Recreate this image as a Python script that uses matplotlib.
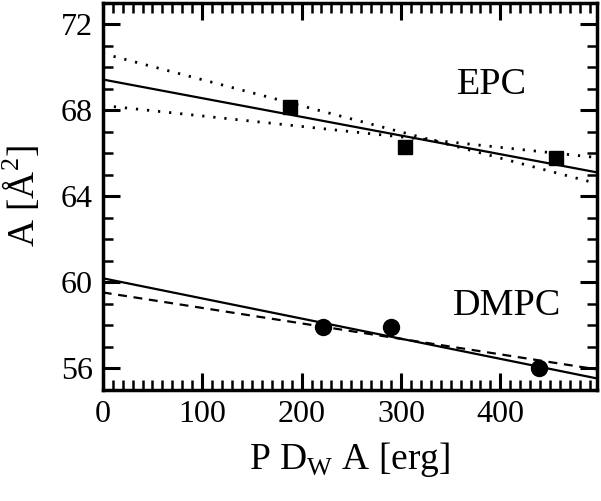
import matplotlib
matplotlib.use("Agg")
import matplotlib.pyplot as plt
from matplotlib.ticker import MultipleLocator

plt.rcParams["font.family"] = ["Liberation Serif", "DejaVu Serif"]
plt.rcParams["mathtext.fontset"] = "custom"
plt.rcParams["mathtext.rm"] = "Liberation Serif"

# data
epc_x = [188, 304, 456]
epc_y = [68.15, 66.3, 65.78]
dmpc_x = [222, 290, 439]
dmpc_y = [57.9, 57.9, 56.0]

# fit lines, values at the two ends of the x range
line_x = [0, 497]
epc_fit = [69.44, 65.12]
epc_band_a = [70.65, 64.6]
epc_band_b = [68.23, 65.81]
dmpc_fit = [60.19, 55.53]
dmpc_alt = [59.53, 55.95]

fig = plt.figure(figsize=(6.01, 5.01), dpi=100)
ax = fig.add_axes([0.171, 0.222, 0.822, 0.772])

ax.plot(line_x, epc_fit, "-", color="black", lw=1.6)
ax.plot(line_x, epc_band_a, color="black", lw=2, linestyle=(0, (0.8, 3.2)))
ax.plot(line_x, epc_band_b, color="black", lw=2, linestyle=(0, (0.8, 3.2)))
ax.plot(line_x, dmpc_fit, "-", color="black", lw=1.6)
ax.plot(line_x, dmpc_alt, color="black", lw=1.6, linestyle=(0, (4, 3)))

ax.plot(epc_x, epc_y, "s", color="black", ms=10, zorder=3)
ax.plot(dmpc_x, dmpc_y, "o", color="black", ms=11.5, zorder=3)

ax.text(392, 69.2, "EPC", fontsize=27.5, ha="center", va="center")
ax.text(407, 58.9, "DMPC", fontsize=27.5, ha="center", va="center")

ax.set_xlim(0, 497)
ax.set_ylim(55, 73)
ax.xaxis.set_major_locator(MultipleLocator(100))
ax.xaxis.set_minor_locator(MultipleLocator(10))
ax.yaxis.set_major_locator(MultipleLocator(4))
ax.yaxis.set_minor_locator(MultipleLocator(1))

for s in ax.spines.values():
    s.set_linewidth(2.5)
ax.tick_params(which="both", direction="in", top=True, right=True,
               labelsize=23, pad=7)
ax.tick_params(which="major", length=12, width=2.2)
ax.tick_params(which="minor", length=7, width=1.8)

ax.set_xlabel(r"P D$_{\mathrm{W}}$ A [erg]", fontsize=27, labelpad=8)
ax.set_ylabel(r"A [$\mathrm{\AA}^2$]", fontsize=27, labelpad=13)

fig.savefig("out.png", dpi=100, facecolor="white")
